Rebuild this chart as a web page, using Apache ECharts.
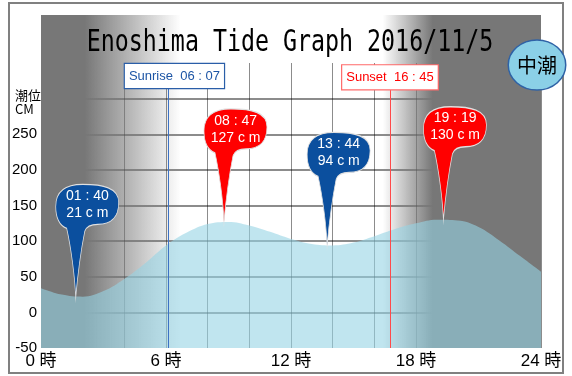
<!DOCTYPE html>
<html>
<head>
<meta charset="utf-8">
<script src="https://cdn.jsdelivr.net/npm/echarts@6/dist/echarts.min.js"></script>
<style>
  html, body { margin: 0; background: #fff; }
  #chart { width: 572px; height: 376px; }
</style>
</head>
<body>
<div id="chart"></div>
<script>
// tide height (cm)
const hours = [0, 1, 2, 3, 4, 5, 6, 7, 8, 9, 10, 11, 12, 13, 14, 15, 16, 17, 18, 19, 20, 21, 22, 23, 24];
const tideCm = [34, 25, 22, 30, 47, 69, 94, 112, 124, 127, 122, 113, 103, 96, 94, 98, 107, 117, 125, 130, 129, 120, 101, 79, 57];

// high / low tide pins
const peakTimes = ['01 : 40', '08 : 47', '13 : 44', '19 : 19'];
const peakHours = [1 + 40 / 60, 8 + 47 / 60, 13 + 44 / 60, 19 + 19 / 60];
const peakCm = [21, 127, 94, 130];
const peakKind = ['low', 'high', 'low', 'high'];

// sun
const sunriseHour = 6 + 7 / 60;
const sunsetHour = 16 + 45 / 60;
const sunriseText = 'Sunrise  06 : 07';
const sunsetText = 'Sunset  16 : 45';

// night shading (hours): dark part and fade part
const morningDark = [0, 2.1];
const morningFadeEnd = 6.7;
const eveningFadeStart = 16.4;
const eveningDark = [18.8, 24];

const xTicks = [0, 6, 12, 18, 24];
const yLabelMax = 250;

const SANS = "'Liberation Sans', 'Noto Sans CJK JP', sans-serif";
const PIN = 'path://M20,113 C19,90 15,62 11,44 C4,41 0,34 0,22 C0,8 9,0 27,0 C47,0 63,3 63,18 C63,33 55,40 42,40 C36,40 31,41 29,47 C26,62 22,90 20,113 Z';

let chart = echarts.init(document.getElementById('chart'));

let pinData = peakHours.map((h, i) => ({
  value: [h, peakCm[i]],
  name: peakTimes[i],
  itemStyle: { color: peakKind[i] === 'low' ? '#0b4f9e' : '#ff0000' }
}));

function fade(reverse) {
  let stops;
  if (reverse) {
    stops = [
      { offset: 0, color: 'rgba(119,119,119,0)' },
      { offset: (eveningDark[0] - eveningFadeStart) / (eveningDark[1] - eveningFadeStart), color: '#777' },
      { offset: 1, color: '#777' }
    ];
  } else {
    stops = [
      { offset: 0, color: '#777' },
      { offset: (morningDark[1] - morningDark[0]) / (morningFadeEnd - morningDark[0]), color: '#777' },
      { offset: 1, color: 'rgba(119,119,119,0)' }
    ];
  }
  return new echarts.graphic.LinearGradient(0, 0, 1, 0, stops);
}

let option = {
  animation: false,
  grid: [
    { left: 41, right: 31, top: 63, bottom: 28 },
    { left: 41, right: 31, top: 15, bottom: 28 }
  ],
  xAxis: [
    {
      type: 'value', gridIndex: 0, min: 0, max: 24, interval: 2, z: 1,
      axisLine: { show: false },
      axisTick: { show: false },
      axisLabel: {
        margin: 5,
        fontFamily: SANS, fontSize: 17, color: '#000',
        formatter: v => xTicks.indexOf(v) >= 0 ? v + ' 時' : ''
      },
      splitLine: { lineStyle: { color: 'rgba(0,0,0,0.45)', width: 1 } }
    },
    { type: 'value', gridIndex: 1, min: 0, max: 24, show: false }
  ],
  yAxis: [
    {
      type: 'value', gridIndex: 0, min: -50, max: 350, interval: 50, z: 1,
      axisLine: { show: false },
      axisTick: { show: false },
      axisLabel: {
        margin: 4,
        fontFamily: SANS, fontSize: 15, color: '#000',
        formatter: v => v <= yLabelMax ? String(v) : ''
      },
      splitLine: {
        showMinLine: false, showMaxLine: false,
        lineStyle: { color: 'rgba(0,0,0,0.45)', width: 2 }
      }
    },
    { type: 'value', gridIndex: 1, min: 0, max: 1, show: false }
  ],
  graphic: [
    {
      type: 'rect', z: -10, silent: true,
      shape: { x: 9, y: 3, width: 554, height: 370 },
      style: { fill: 'none', stroke: '#808080', lineWidth: 2 }
    },
    {
      type: 'text', x: 290, y: 43, z: 50, scaleX: 0.776,
      style: {
        text: 'Enoshima Tide Graph 2016/11/5', font: "30px 'DejaVu Sans Mono'",
        fill: '#000', align: 'center', verticalAlign: 'middle'
      }
    },
    {
      type: 'text', left: 15, top: 88, z: 50,
      style: { text: '潮位\nCM', font: "13px 'Noto Sans CJK JP'", lineHeight: 14, fill: '#000' }
    },
    {
      type: 'circle', x: 537, y: 65, scaleX: 1.15, z: 100,
      shape: { cx: 0, cy: 0, r: 25 },
      style: { fill: '#8bd0e7', stroke: '#2f62a6', lineWidth: 1.3 }
    },
    {
      type: 'text', x: 537, y: 65, z: 101,
      style: { text: '中潮', font: "20px 'Noto Sans CJK JP'", fill: '#000', align: 'center', verticalAlign: 'middle' }
    }
  ],
  series: [
    {
      // night shading
      type: 'line', xAxisIndex: 1, yAxisIndex: 1, z: 0,
      data: [[0, 0]], symbol: 'none', lineStyle: { opacity: 0 },
      markArea: {
        silent: true,
        data: [
          [{ xAxis: morningDark[0], itemStyle: { color: fade(false) } }, { xAxis: morningFadeEnd }],
          [{ xAxis: eveningFadeStart, itemStyle: { color: fade(true) } }, { xAxis: eveningDark[1] }]
        ]
      }
    },
    {
      name: 'tide', type: 'line', z: 2,
      data: hours.map((h, i) => [h, tideCm[i]]),
      smooth: 0.4, symbol: 'none',
      lineStyle: { width: 0 },
      areaStyle: { color: 'rgba(150,212,228,0.6)', opacity: 1, origin: 'start' },
      markLine: {
        silent: true, symbol: 'none',
        data: [
          [
            {
              coord: [sunriseHour, -50],
              lineStyle: { color: '#3d72c4', width: 1, type: 'solid' },
              label: {
                formatter: sunriseText, color: '#1d55a5', borderColor: '#2a5ea8',
                backgroundColor: '#fff', offset: [6, 0]
              }
            },
            { coord: [sunriseHour, 315] }
          ],
          [
            {
              coord: [sunsetHour, -50],
              lineStyle: { color: '#ff4a4a', width: 1, type: 'solid' },
              label: {
                formatter: sunsetText, color: '#ff0000', borderColor: '#ff6a6a',
                backgroundColor: '#fff'
              }
            },
            { coord: [sunsetHour, 313] }
          ]
        ],
        label: {
          show: true, position: 'end', distance: 0,
          fontFamily: SANS, fontSize: 13,
          borderWidth: 1.2, padding: [6, 4, 5, 4]
        }
      }
    },
    {
      name: 'peaks', type: 'scatter', z: 5,
      data: pinData,
      symbol: PIN,
      symbolSize: [63, 113],
      symbolOffset: [11.5, -56.5],
      itemStyle: { borderColor: '#e0e0e0', borderWidth: 1, opacity: 1 },
      label: {
        show: true,
        position: [32, 21],
        align: 'center', verticalAlign: 'middle',
        fontFamily: SANS, fontSize: 14, lineHeight: 17, color: '#fff',
        formatter: p => p.name + '\n' + peakCm[p.dataIndex] + ' c m'
      }
    }
  ]
};

chart.setOption(option);
</script>
</body>
</html>
